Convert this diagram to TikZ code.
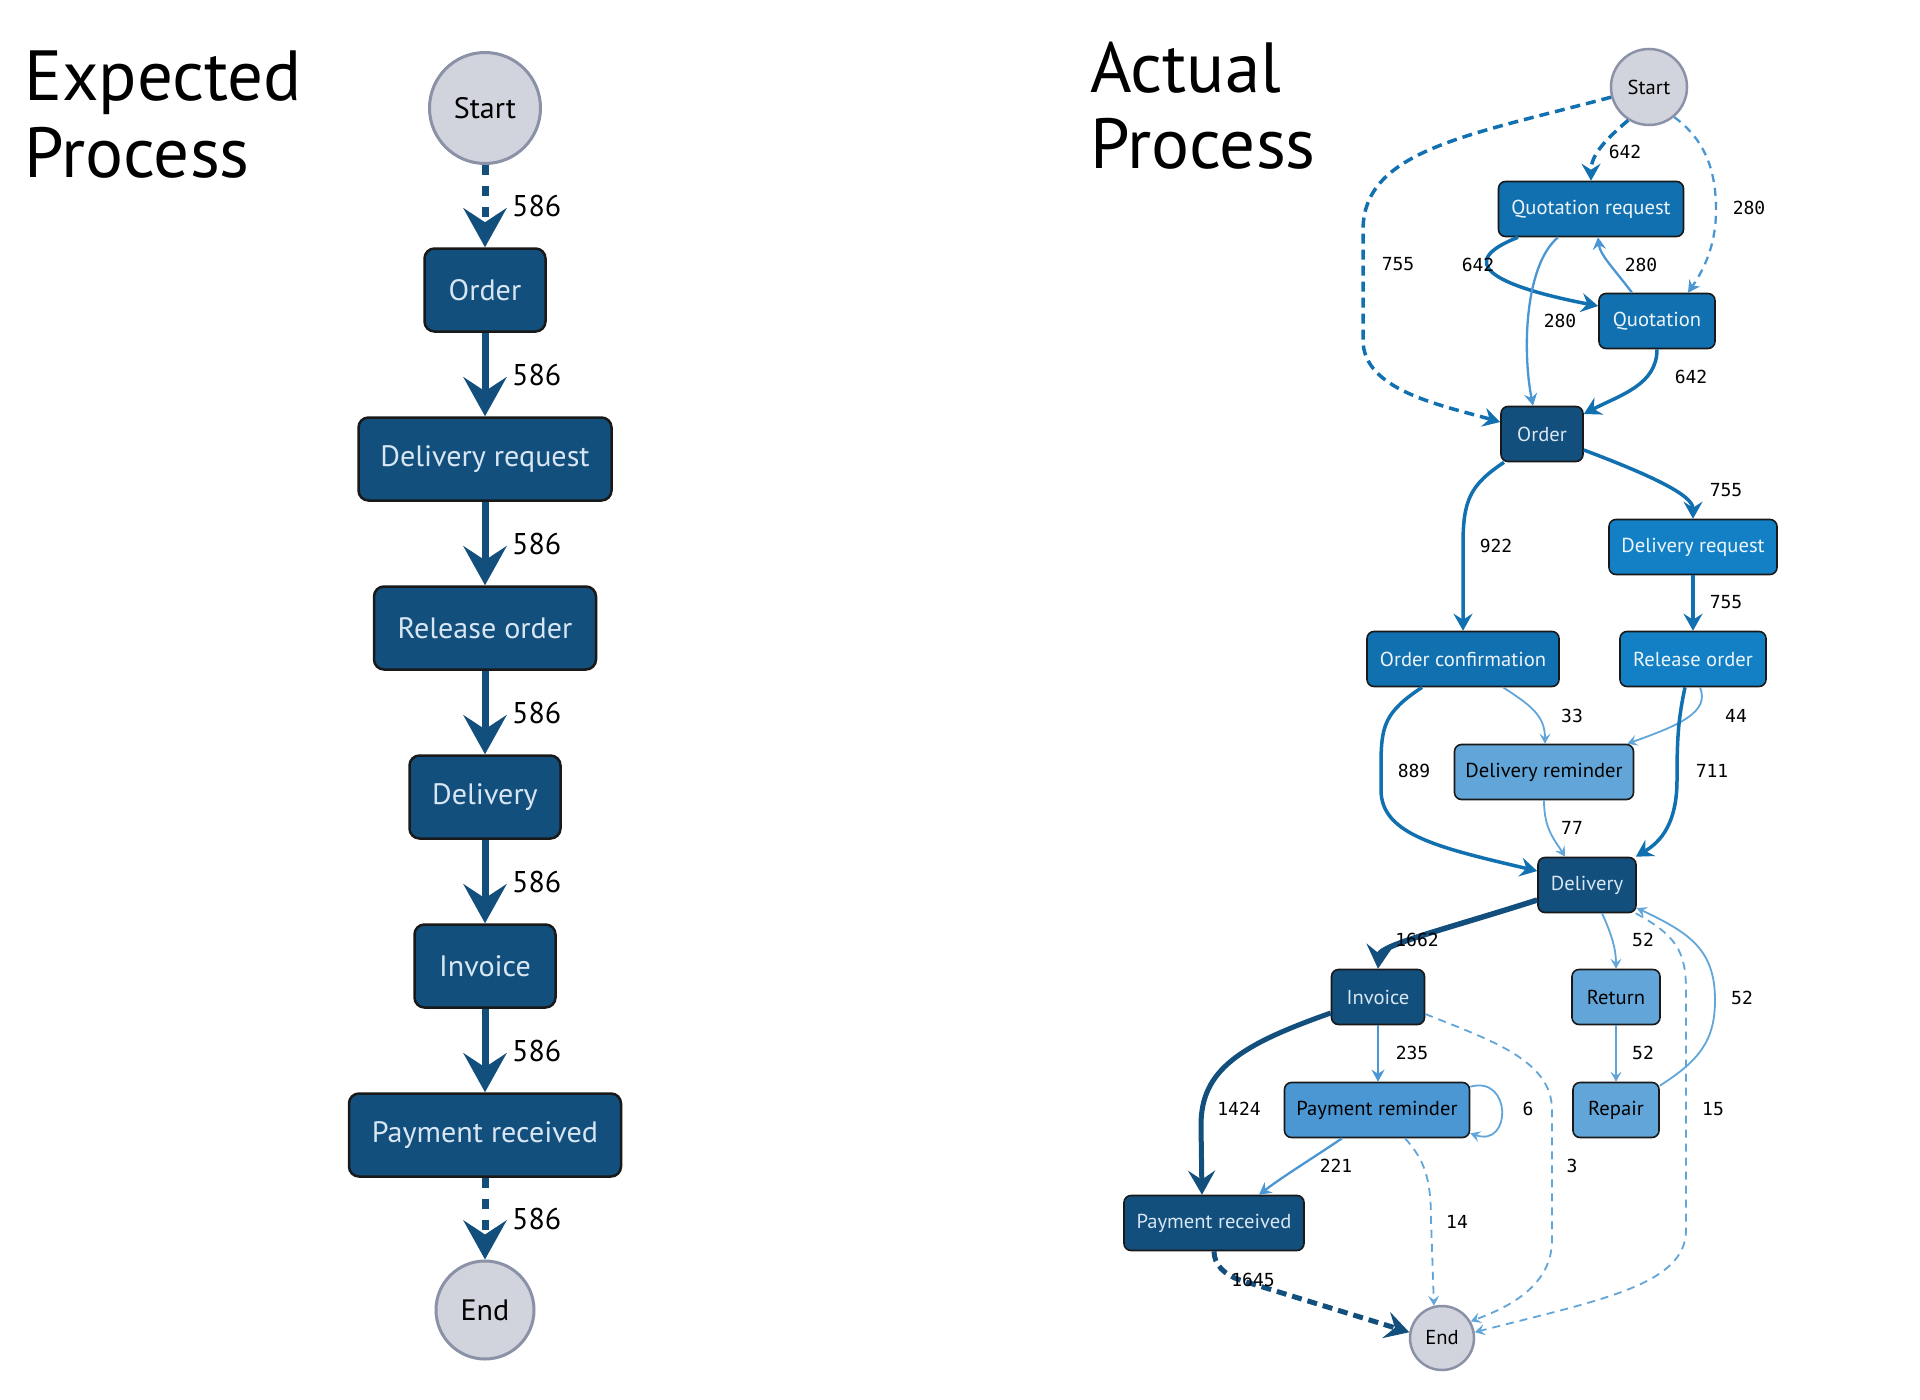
\documentclass[tikz,border=0pt]{standalone}
\usepackage{fontspec}
\setmainfont{PT Sans}
\newfontfamily\nf{PT Sans}[FakeStretch=1.02]
\newfontfamily\tf{PT Sans}
\newfontfamily\mf{DejaVu Sans Mono}
\usetikzlibrary{arrows.meta}
\definecolor{navy}{HTML}{124F7C}
\definecolor{midb}{HTML}{1170B0}
\definecolor{brb}{HTML}{1380C6}
\definecolor{prb}{HTML}{4A97D4}
\definecolor{ltb}{HTML}{62A6D9}
\definecolor{termf}{HTML}{D1D4DD}
\definecolor{termb}{HTML}{8B91A7}
\definecolor{ltxt}{HTML}{D8E6F3}
\begin{document}
\begin{tikzpicture}[x=1pt,y=-1pt,
  ttl/.style={inner sep=0pt, anchor=base west, font=\tf\fontsize{71}{74}\selectfont},
  ebox/.style={draw=black!90, line width=2.5pt, rounded corners=10pt, fill=navy, text=ltxt,
     minimum height=83pt, inner sep=0pt, font=\nf\fontsize{29.5}{31}\selectfont},
  eterm/.style={circle, draw=termb, line width=3pt, fill=termf, inner sep=0pt, text=black,
     font=\nf\fontsize{29.5}{31}\selectfont},
  elab/.style={inner sep=0pt, anchor=west, font=\tf\fontsize{30}{32}\selectfont},
  eedge/.style={draw=navy, line width=7pt, -{Stealth[length=39pt,width=43pt,inset=14pt]}},
  abox/.style={draw=black!90, line width=1.6pt, rounded corners=7pt, minimum height=55pt,
     inner sep=0pt, font=\nf\fontsize{20.2}{22}\selectfont},
  dk/.style={abox, fill=navy, text=ltxt},
  md/.style={abox, fill=midb, text=white!92!midb},
  br/.style={abox, fill=brb, text=white!92!brb},
  prn/.style={abox, fill=prb, text=black},
  lt/.style={abox, fill=ltb, text=black},
  aterm/.style={circle, draw=termb, line width=2.5pt, fill=termf, inner sep=0pt, text=black,
     font=\nf\fontsize{20.2}{22}\selectfont},
  alab/.style={inner sep=0pt, font=\mf\fontsize{18}{20}\selectfont},
  thk/.style={draw=navy, line width=5pt, -{Stealth[length=24pt,width=27pt,inset=9pt]}},
  med/.style={draw=midb, line width=3.5pt, -{Stealth[length=17pt,width=19pt,inset=6pt]}},
  lgt/.style={draw=prb, line width=2.3pt, -{Stealth[length=12pt,width=13pt,inset=4pt]}},
  xlt/.style={draw=ltb, line width=1.8pt, -{Stealth[length=10pt,width=11pt,inset=4pt]}},
  mdash/.style={dash pattern=on 10pt off 6pt},
  ldash/.style={dash pattern=on 8pt off 6pt}
]
\useasboundingbox (0,0) rectangle (1920,1400);
\fill[white] (0,0) rectangle (1920,1400);

% ---------- Titles ----------
\node[ttl] (t1) at (24,100) {Expected};
\node[ttl] (t2) at (24,177) {Process};
\node[ttl] (t3) at (1090,92) {Actual};
\node[ttl] (t4) at (1090,168) {Process};

% ---------- Expected process ----------
\node[eterm, minimum size=111pt] (eS) at (485,108) {Start};
\node[ebox, minimum width=121pt] (eO) at (485,290) {Order};
\node[ebox, minimum width=253pt] (eDR) at (485,459) {Delivery request};
\node[ebox, minimum width=222pt] (eRO) at (485,628) {Release order};
\node[ebox, minimum width=151pt] (eD) at (485,797) {Delivery};
\node[ebox, minimum width=141pt] (eI) at (485,966) {Invoice};
\node[ebox, minimum width=272pt] (eP) at (485,1135) {Payment received};
\node[eterm, minimum size=98pt] (eE) at (485,1310) {End};

\draw[eedge, dash pattern=on 10pt off 11pt] (eS) -- (eO);
\draw[eedge] (eO) -- (eDR);
\draw[eedge] (eDR) -- (eRO);
\draw[eedge] (eRO) -- (eD);
\draw[eedge] (eD) -- (eI);
\draw[eedge] (eI) -- (eP);
\draw[eedge, dash pattern=on 10pt off 11pt] (eP) -- (eE);

\node[elab] (n1) at (512,206) {586};
\node[elab] (n2) at (512,375) {586};
\node[elab] (n3) at (512,544) {586};
\node[elab] (n4) at (512,713) {586};
\node[elab] (n5) at (512,882) {586};
\node[elab] (n6) at (512,1051) {586};
\node[elab] (n7) at (512,1219) {586};

% ---------- Actual process ----------
\node[aterm, minimum size=76pt] (aS) at (1649,87) {Start};
\node[md, minimum width=185pt] (aQR) at (1591,209) {Quotation request};
\node[md, minimum width=116pt] (aQ) at (1657,321) {Quotation};
\node[dk, minimum width=82pt] (aO) at (1542,434) {Order};
\node[br, minimum width=168pt] (aDR) at (1693,547) {Delivery request};
\node[md, minimum width=192pt] (aOC) at (1463,659) {Order confirmation};
\node[br, minimum width=146pt] (aRO) at (1693,659) {Release order};
\node[lt, minimum width=179pt] (aDRem) at (1544,772) {Delivery reminder};
\node[dk, minimum width=98pt] (aD) at (1587,885) {Delivery};
\node[dk, minimum width=93pt] (aI) at (1378,997) {Invoice};
\node[lt, minimum width=88pt] (aRet) at (1616,997) {Return};
\node[prn, minimum width=185pt] (aPR) at (1377,1110) {Payment reminder};
\node[lt, minimum width=86pt] (aRep) at (1616,1110) {Repair};
\node[dk, minimum width=180pt] (aPay) at (1214,1223) {Payment received};
\node[aterm, minimum size=64pt] (aE) at (1442,1338) {End};

% edges
\draw[med, mdash] (aS.195) .. controls (1470,135) and (1363,150) .. (1363,230) -- (1363,340)
   .. controls (1363,390) and (1440,405) .. ([yshift=12pt]aO.west);
\draw[med, mdash] (aS.238) .. controls (1605,140) and (1591,155) .. (aQR.north);
\draw[lgt, ldash] (aS.-50) .. controls (1705,140) and (1716,170) .. (1716,210)
   .. controls (1716,250) and (1700,275) .. ([xshift=31pt]aQ.north);
\draw[med] ([xshift=-73pt]aQR.south) .. controls (1455,262) and (1490,285) .. ([yshift=15pt]aQ.west);
\draw[lgt] ([xshift=-25pt]aQ.north) .. controls (1615,270) and (1600,255) .. ([xshift=7pt]aQR.south);
\draw[lgt] ([xshift=-33pt]aQR.south) .. controls (1525,265) and (1522,350) .. ([xshift=-9pt]aO.north);
\draw[med] (aQ.south) .. controls (1657,385) and (1620,395) .. ([yshift=20pt]aO.east);
\draw[med] ([yshift=-16pt]aO.east) .. controls (1650,475) and (1693,495) .. (aDR.north);
\draw[med] ([xshift=-38pt]aO.south) .. controls (1470,485) and (1463,500) .. (1463,545) -- (aOC.north);
\draw[med] (aDR.south) -- (aRO.north);
\draw[med] ([xshift=-41pt]aOC.south) .. controls (1385,712) and (1381,725) .. (1381,765) -- (1381,790)
   .. controls (1381,835) and (1440,848) .. ([yshift=14pt]aD.west);
\draw[xlt] ([xshift=40pt]aOC.south) .. controls (1530,705) and (1545,715) .. ([xshift=1pt]aDRem.north);
\draw[xlt] ([xshift=7pt]aRO.south) .. controls (1710,712) and (1680,725) .. ([xshift=-7pt]aDRem.north east);
\draw[med] ([xshift=-8pt]aRO.south) .. controls (1678,720) and (1677,740) .. (1677,780)
   .. controls (1677,830) and (1655,845) .. ([xshift=-1pt]aD.north east);
\draw[xlt] (aDRem.south) .. controls (1544,830) and (1555,840) .. ([xshift=-22pt]aD.north);
\draw[thk, line width=5.5pt] ([yshift=-15pt]aD.west) .. controls (1450,928) and (1380,945) .. (aI.north);
\draw[xlt] ([xshift=15pt]aD.south) .. controls (1612,935) and (1616,950) .. (aRet.north);
\draw[xlt] (aRet.south) -- (aRep.north);
\draw[xlt] ([yshift=-4pt]aRep.north east) .. controls (1700,1060) and (1715,1040) .. (1715,1000)
   .. controls (1715,950) and (1690,933) .. ([yshift=-23pt]aD.east);
\draw[xlt, ldash] ([xshift=-1pt]aD.south east) .. controls (1675,935) and (1686,950) .. (1686,990)
   -- (1686,1230) .. controls (1686,1285) and (1600,1300) .. (aE.10);
\draw[lgt] (aI.south) -- (aI.south |- aPR.north);
\draw[thk] ([yshift=-16pt]aI.west) .. controls (1240,1045) and (1201,1070) .. (1201,1125) -- ([xshift=-12pt]aPay.north);
\draw[xlt] ([yshift=-5pt]aPR.north east) .. controls (1512,1075) and (1512,1148) .. ([yshift=5pt]aPR.south east);
\draw[lgt] ([xshift=-35pt]aPR.south) .. controls (1310,1160) and (1285,1175) .. ([xshift=45pt]aPay.north);
\draw[xlt, ldash] ([xshift=28pt]aPR.south) .. controls (1425,1160) and (1431,1180) .. (1431,1220) -- (aE.104);
\draw[xlt, ldash] ([yshift=-17pt]aI.east) .. controls (1490,1040) and (1552,1060) .. (1552,1110)
   -- (1552,1240) .. controls (1552,1290) and (1500,1310) .. (aE.30);
\draw[thk, mdash] (aPay.south) .. controls (1214,1265) and (1225,1275) .. (1240,1280) -- (aE.170);

% edge labels
\node[alab] (m1) at (1625,152) {642};
\node[alab] (m2) at (1749,208) {280};
\node[alab] (m3) at (1398,264.5) {755};
\node[alab] (m4) at (1478,264.5) {642};
\node[alab] (m5) at (1641,264.5) {280};
\node[alab] (m6) at (1560,321) {280};
\node[alab] (m7) at (1691,377) {642};
\node[alab] (m8) at (1726,490) {755};
\node[alab] (m9) at (1496,546) {922};
\node[alab] (m10) at (1726,602) {755};
\node[alab] (m11) at (1572,716) {33};
\node[alab] (m12) at (1736,716) {44};
\node[alab] (m13) at (1414,771) {889};
\node[alab] (m14) at (1712,771) {711};
\node[alab] (m15) at (1572,828) {77};
\node[alab] (m16) at (1417,940) {1662};
\node[alab] (m17) at (1643,940) {52};
\node[alab] (m18) at (1742,998) {52};
\node[alab] (m19) at (1412,1053) {235};
\node[alab] (m20) at (1643,1053) {52};
\node[alab] (m21) at (1239,1109) {1424};
\node[alab] (m22) at (1528,1109) {6};
\node[alab] (m23) at (1713,1109) {15};
\node[alab] (m24) at (1336,1166) {221};
\node[alab] (m25) at (1572,1166) {3};
\node[alab] (m26) at (1457,1222) {14};
\node[alab] (m27) at (1253,1280) {1645};
\end{tikzpicture}
\end{document}
